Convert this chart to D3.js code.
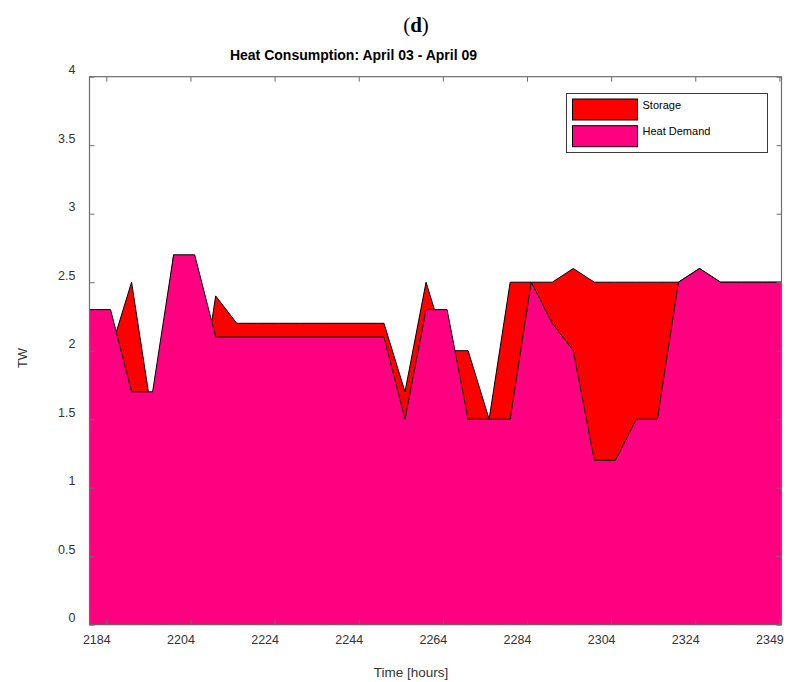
<!DOCTYPE html>
<html>
<head>
<meta charset="utf-8">
<script src="https://cdn.jsdelivr.net/npm/d3@7"></script>
<style>
  html, body { margin: 0; padding: 0; background: #fff; }
  svg { display: block; font-family: "Liberation Sans", Arial, Helvetica, sans-serif; }
</style>
</head>
<body>
<svg id="chart" width="786" height="682"></svg>
<script>
// Hourly sample points (every 5 h) for the week of April 03 - April 09
const hours = [2180, 2185, 2190, 2195, 2200, 2205, 2210, 2215, 2220, 2225,
               2230, 2235, 2240, 2245, 2250, 2255, 2260, 2265, 2270, 2275,
               2280, 2285, 2290, 2295, 2300, 2305, 2310, 2315, 2320, 2325,
               2330, 2335, 2340, 2345];

// Heat demand [TW]
const heatDemand = [2.3, 2.3, 1.7, 1.7, 2.7, 2.7, 2.1, 2.1, 2.1, 2.1,
                    2.1, 2.1, 2.1, 2.1, 2.1, 1.5, 2.3, 2.3, 1.5, 1.5,
                    1.5, 2.5, 2.2, 2.0, 1.2, 1.2, 1.5, 1.5, 2.5, 2.6,
                    2.5, 2.5, 2.5, 2.5];

// Storage contribution [TW] (negative = charging)
const storage = [0.0, -0.3, 0.8, -0.2, 0.0, -1.3, 0.3, 0.1, 0.1, 0.1,
                 0.1, 0.1, 0.1, 0.1, 0.1, 0.2, 0.2, -0.3, 0.5, 0.0,
                 1.0, 0.0, 0.3, 0.6, 1.3, 1.3, 1.0, 1.0, 0.0, 0.0,
                 0.0, 0.0, 0.0, 0.0];

const xTickValues = [2184, 2204, 2224, 2244, 2264, 2284, 2304, 2324, 2344];
const xTickLabels = ["2184", "2204", "2224", "2244", "2264", "2284", "2304", "2324", "2349"];
const yTickValues = [0, 0.5, 1, 1.5, 2, 2.5, 3, 3.5, 4];

const seriesNames = ["Storage", "Heat Demand"];
const seriesColors = ["#ff0000", "#ff0080"];

const svg = d3.select("#chart");
const plot = { left: 89.5, right: 781.5, top: 76.7, bottom: 624.7 };

const x = d3.scaleLinear().domain([2180, 2344.5]).range([plot.left, plot.right]);
const y = d3.scaleLinear().domain([0, 4]).range([plot.bottom, plot.top]);

const rows = hours.map((h, i) => ({
  h,
  demand: heatDemand[i],
  total: heatDemand[i] + storage[i]
}));

svg.append("defs").append("clipPath").attr("id", "plotClip")
  .append("rect")
  .attr("x", plot.left).attr("y", plot.top)
  .attr("width", plot.right - plot.left).attr("height", plot.bottom - plot.top);

const g = svg.append("g").attr("clip-path", "url(#plotClip)");

const areaTotal = d3.area().x(d => x(d.h)).y0(y(0)).y1(d => y(d.total));
const areaDemand = d3.area().x(d => x(d.h)).y0(y(0)).y1(d => y(d.demand));

// Demand plus storage drawn first, demand on top of it
g.append("path").datum(rows)
  .attr("d", areaTotal)
  .attr("fill", seriesColors[0])
  .attr("stroke", "#000").attr("stroke-width", 1).attr("stroke-linejoin", "miter");

g.append("path").datum(rows)
  .attr("d", areaDemand)
  .attr("fill", seriesColors[1])
  .attr("stroke", "#000").attr("stroke-width", 1).attr("stroke-linejoin", "miter");

// Axes box
const axisColor = "#6e6e6e";
svg.append("rect")
  .attr("x", plot.left).attr("y", plot.top)
  .attr("width", plot.right - plot.left).attr("height", plot.bottom - plot.top)
  .attr("fill", "none").attr("stroke", axisColor).attr("stroke-width", 1.2);

const tickLen = 5;

// Bottom axis
const xAxisBottom = d3.axisBottom(x).tickValues(xTickValues)
  .tickSizeInner(-tickLen).tickSizeOuter(0)
  .tickFormat((d, i) => xTickLabels[i]);
const gxb = svg.append("g").attr("transform", `translate(0,${plot.bottom})`).call(xAxisBottom);
gxb.select(".domain").remove();
gxb.selectAll(".tick line").attr("stroke", axisColor);
gxb.selectAll(".tick text")
  .attr("fill", "#333").attr("font-size", 12.5)
  .attr("font-family", "'Liberation Sans', Arial, sans-serif")
  .attr("dx", -10).attr("y", 10).attr("dy", "0.71em");

// Top ticks
const xAxisTop = d3.axisTop(x).tickValues(xTickValues)
  .tickSizeInner(-tickLen).tickSizeOuter(0).tickFormat("");
const gxt = svg.append("g").attr("transform", `translate(0,${plot.top})`).call(xAxisTop);
gxt.select(".domain").remove();
gxt.selectAll(".tick line").attr("stroke", axisColor);

// Left axis
const yAxisLeft = d3.axisLeft(y).tickValues(yTickValues)
  .tickSizeInner(-tickLen).tickSizeOuter(0)
  .tickFormat(d3.format("~g"));
const gyl = svg.append("g").attr("transform", `translate(${plot.left},0)`).call(yAxisLeft);
gyl.select(".domain").remove();
gyl.selectAll(".tick line").attr("stroke", axisColor);
gyl.selectAll(".tick text")
  .attr("fill", "#333").attr("font-size", 12.5)
  .attr("font-family", "'Liberation Sans', Arial, sans-serif")
  .attr("x", -14).attr("dy", "-0.25em");

// Right ticks
const yAxisRight = d3.axisRight(y).tickValues(yTickValues)
  .tickSizeInner(-tickLen).tickSizeOuter(0).tickFormat("");
const gyr = svg.append("g").attr("transform", `translate(${plot.right},0)`).call(yAxisRight);
gyr.select(".domain").remove();
gyr.selectAll(".tick line").attr("stroke", axisColor);

// Axis titles
svg.append("text")
  .attr("x", 411).attr("y", 677)
  .attr("text-anchor", "middle").attr("font-size", 13.5).attr("fill", "#333")
  .text("Time [hours]");

svg.append("text")
  .attr("transform", "translate(27,358) rotate(-90)")
  .attr("text-anchor", "middle").attr("font-size", 13).attr("fill", "#333")
  .text("TW");

// Chart title
svg.append("text")
  .attr("x", 353.5).attr("y", 60)
  .attr("text-anchor", "middle").attr("font-size", 14).attr("font-weight", "bold")
  .attr("fill", "#000")
  .text("Heat Consumption: April 03 - April 09");

// Panel label
const panel = svg.append("text")
  .attr("x", 416).attr("y", 32)
  .attr("text-anchor", "middle").attr("font-size", 21)
  .attr("font-family", "'Liberation Serif', 'DejaVu Serif', serif")
  .attr("fill", "#000");
panel.append("tspan").text("(");
panel.append("tspan").attr("font-weight", "bold").text("d");
panel.append("tspan").text(")");

// Legend
const legend = svg.append("g");
legend.append("rect")
  .attr("x", 566.5).attr("y", 93.5).attr("width", 201).attr("height", 59)
  .attr("fill", "#fff").attr("stroke", "#3a3a3a").attr("stroke-width", 1);

seriesNames.forEach((name, i) => {
  const top = 99 + i * 26.7;
  legend.append("rect")
    .attr("x", 572.5).attr("y", top).attr("width", 65).attr("height", 21)
    .attr("fill", seriesColors[i]).attr("stroke", "#000").attr("stroke-width", 1);
  legend.append("text")
    .attr("x", 642.5).attr("y", top + 9.5)
    .attr("font-size", 11).attr("fill", "#000")
    .text(name);
});
</script>
</body>
</html>
